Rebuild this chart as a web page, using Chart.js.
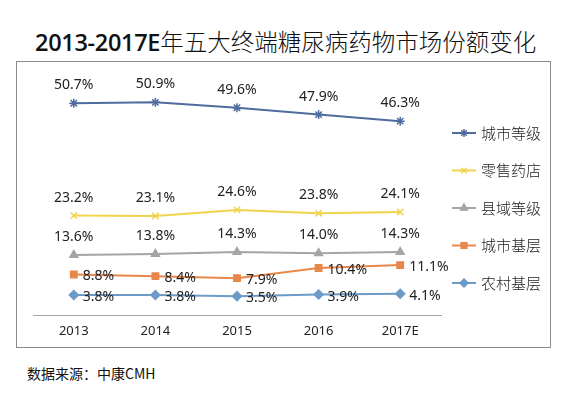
<!DOCTYPE html>
<html>
<head>
<meta charset="utf-8">
<script src="https://cdn.jsdelivr.net/npm/chart.js@4/dist/chart.umd.min.js"></script>
<style>
    body { margin: 0; background: #fff; width: 570px; height: 399px; position: relative; overflow: hidden; }
    #title { position: absolute; left: 35px; top: 25px; white-space: nowrap; font: 300 23.5px "Noto Sans CJK SC", sans-serif; color: #111; line-height: 32px; }
    #title b { font-family: "Open Sans", "Noto Sans", sans-serif; font-weight: 600; letter-spacing: -0.3px; }
    #box { position: absolute; left: 16px; top: 61px; width: 533px; height: 285px; border: 1.5px solid #8c8c8c; }
    #source { position: absolute; left: 27px; top: 363px; font: 14px "Noto Sans CJK SC", sans-serif; color: #111; }
    canvas { position: absolute; left: 0; top: 0; }
</style>
</head>
<body>
<div id="title"><b>2013-2017E</b>年五大终端糖尿病药物市场份额变化</div>
<div id="box"><canvas id="chart" width="533" height="285"></canvas></div>
<div id="source">数据来源：中康CMH</div>
<script>
const years = ['2013', '2014', '2015', '2016', '2017E'];
const seriesNames = ['城市等级', '零售药店', '县域等级', '城市基层', '农村基层'];
const cityLevel = [50.7, 50.9, 49.6, 47.9, 46.3];
const retail = [23.2, 23.1, 24.6, 23.8, 24.1];
const county = [13.6, 13.8, 14.3, 14.0, 14.3];
const cityBase = [8.8, 8.4, 7.9, 10.4, 11.1];
const rural = [3.8, 3.8, 3.5, 3.9, 4.1];

const colors = ['#4f6c9e', '#f0d44c', '#a5a5a5', '#e8874a', '#6d9bc8'];
const markers = ['star', 'crossRot', 'triangle', 'rect', 'rectRot'];
const labelSide = ['top', 'top', 'top', 'right', 'right'];
const allValues = [cityLevel, retail, county, cityBase, rural];

const valueLabels = {
    id: 'valueLabels',
    afterDatasetsDraw(chart) {
        const ctx = chart.ctx;
        ctx.save();
        ctx.font = '14px "Noto Sans", "DejaVu Sans", sans-serif';
        ctx.fillStyle = '#222';
        ctx.textBaseline = 'middle';
        chart.data.datasets.forEach((ds, i) => {
            chart.getDatasetMeta(i).data.forEach((pt, j) => {
                const text = ds.data[j].toFixed(1) + '%';
                if (labelSide[i] === 'top') {
                    ctx.textAlign = 'center';
                    ctx.fillText(text, pt.x, pt.y - 18);
                } else {
                    ctx.textAlign = 'left';
                    ctx.fillText(text, pt.x + 9, pt.y + 2);
                }
            });
        });
        ctx.restore();
    },
};

const sideLegend = {
    id: 'sideLegend',
    afterDraw(chart) {
        const ctx = chart.ctx;
        ctx.save();
        chart.data.datasets.forEach((ds, i) => {
            const y = 71 + i * 37.5;
            ctx.strokeStyle = ds.borderColor;
            ctx.fillStyle = ds.backgroundColor;
            ctx.lineWidth = 2;
            ctx.beginPath();
            ctx.moveTo(435, y);
            ctx.lineTo(459, y);
            ctx.stroke();
            ctx.lineWidth = 1.5;
            Chart.helpers.drawPoint(ctx, { pointStyle: ds.pointStyle, radius: 4, borderWidth: 1.5 }, 447, y);
            ctx.fillStyle = '#222';
            ctx.font = '300 15px "Noto Sans CJK SC", sans-serif';
            ctx.textAlign = 'left';
            ctx.textBaseline = 'middle';
            ctx.fillText(ds.label, 464, y);
        });
        ctx.restore();
    },
};

new Chart(document.getElementById('chart'), {
    type: 'line',
    data: {
        labels: years,
        datasets: seriesNames.map((name, i) => ({
            label: name,
            data: allValues[i],
            borderColor: colors[i],
            backgroundColor: colors[i],
            pointBorderColor: colors[i],
            pointBackgroundColor: colors[i],
            pointStyle: markers[i],
            pointRadius: 4.5,
            pointBorderWidth: 1.5,
            borderWidth: 2,
            tension: 0,
        })),
    },
    options: {
        responsive: false,
        animation: false,
        layout: { padding: { left: 16, right: 109, top: 2, bottom: 0 } },
        plugins: {
            legend: { display: false },
            tooltip: { enabled: false },
        },
        scales: {
            x: {
                offset: true,
                grid: { display: false, drawTicks: false },
                border: { color: '#a6a6a6', width: 1 },
                ticks: {
                    color: '#222',
                    padding: 8,
                    font: { size: 13, family: '"Noto Sans", "DejaVu Sans", sans-serif' },
                },
            },
            y: {
                display: false,
                min: -1.2,
                max: 59.3,
            },
        },
    },
    plugins: [valueLabels, sideLegend],
});
</script>
</body>
</html>
